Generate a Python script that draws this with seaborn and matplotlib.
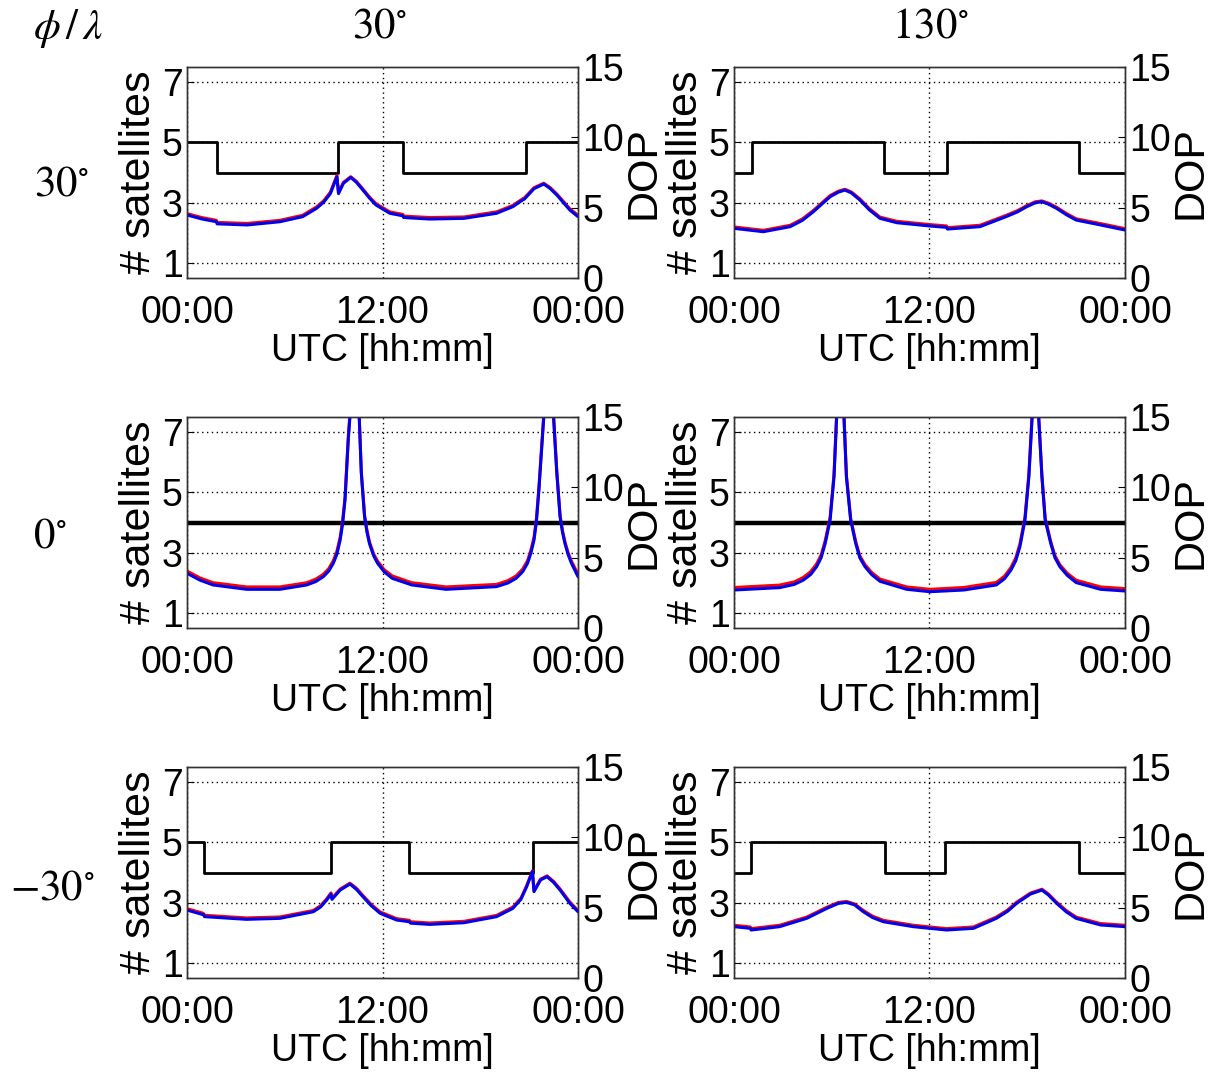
"""
GPS satellite visibility and DOP over one day, 3 latitudes x 2 longitudes.
Left axis: number of visible satellites (black step line).
Right axis: DOP (red and blue curves).
"""
import numpy as np
import pandas as pd
import matplotlib
matplotlib.use("Agg")
import matplotlib.pyplot as plt
import seaborn as sns

# ---------------------------------------------------------------------------
# Data (hours UTC)
# ---------------------------------------------------------------------------

LATITUDES = ["30", "0", "-30"]
LONGITUDES = ["30", "130"]
TIME_TICKS = [0, 12, 24]
TIME_LABELS = ["00:00", "12:00", "00:00"]
SAT_TICKS = [1, 3, 5, 7]
DOP_TICKS = [0, 5, 10, 15]

# lat 30 / lon 30
p30_30_t = [0, 0.9, 1.8, 1.85, 3.7, 5.7, 7.1, 7.95, 8.4, 8.8, 9.2, 9.3, 9.6, 10.05,
            10.4, 10.8, 11.2, 11.6, 12.45, 13.25, 13.3, 14.9, 17.0, 19.0, 20.0,
            20.6, 20.7, 21.3, 21.9, 22.3, 22.7, 23.5, 24]
p30_30_blue = [4.48, 4.2, 4.0, 3.85, 3.77, 4.0, 4.36, 4.95, 5.4, 6.0, 7.2, 6.0,
               6.73, 7.15, 6.8, 6.25, 5.68, 5.19, 4.6, 4.42, 4.3, 4.19, 4.24, 4.6,
               5.07, 5.55, 5.6, 6.35, 6.68, 6.35, 5.9, 4.83, 4.36]
p30_30_red = [4.58, 4.3, 4.1, 3.95, 3.88, 4.1, 4.46, 5.05, 5.5, 6.1, 7.28, 6.1,
              6.8, 7.2, 6.87, 6.32, 5.76, 5.28, 4.7, 4.52, 4.4, 4.3, 4.34, 4.7,
              5.16, 5.63, 5.68, 6.42, 6.74, 6.42, 5.97, 4.92, 4.46]
p30_30_sat_t = [0, 1.82, 9.25, 13.28, 20.8, 24]
p30_30_sat_n = [5, 4, 5, 4, 5, 5]

# lat 30 / lon 130
p30_130_t = [0, 1.8, 3.45, 4.2, 4.87, 5.9, 6.4, 6.81, 7.2, 7.73, 8.3, 8.96, 10.0,
             12.0, 13.05, 13.1, 15.1, 16.7, 17.4, 17.97, 18.5, 18.9, 19.3, 19.8,
             20.4, 21.0, 22.5, 24]
p30_130_blue = [3.53, 3.29, 3.65, 4.1, 4.71, 5.78, 6.1, 6.25, 6.05, 5.54, 4.85,
                4.24, 3.93, 3.7, 3.6, 3.48, 3.65, 4.36, 4.7, 5.07, 5.35, 5.42,
                5.25, 4.95, 4.5, 4.12, 3.77, 3.41]
p30_130_red = [3.63, 3.39, 3.75, 4.2, 4.8, 5.86, 6.17, 6.31, 6.12, 5.62, 4.94,
               4.33, 4.03, 3.8, 3.7, 3.58, 3.75, 4.45, 4.79, 5.15, 5.42, 5.48,
               5.32, 5.03, 4.59, 4.21, 3.87, 3.51]
p30_130_sat_t = [0, 1.08, 9.23, 13.1, 21.2, 24]
p30_130_sat_n = [4, 5, 4, 5, 4, 4]

# lat 0 / lon 30
p0_30_t = [0, 0.8, 1.6, 3.66, 5.7, 7.35, 7.9, 8.37, 8.7, 8.98, 9.2, 9.4, 9.55,
           9.7, 9.9, 10.0, 10.3, 10.57, 10.7, 10.9, 11.05, 11.2, 11.45, 11.7,
           12.1, 12.6, 13.8, 15.9, 19.0, 19.7, 20.2, 20.6, 20.9, 21.1, 21.3, 21.45,
           21.6, 21.9, 22.2, 22.5, 22.7, 22.9, 23.05, 23.2, 23.4, 23.6, 24]
p0_30_blue = [3.89, 3.4, 3.06, 2.75, 2.75, 3.06, 3.3, 3.65, 4.05, 4.6, 5.25, 6.25,
              7.4, 9.1, 13.4, 15.0, 30.0, 15.0, 11.0, 7.9, 6.8, 6.0, 5.15, 4.6,
              4.0, 3.53, 3.06, 2.75, 2.94, 3.2, 3.53, 4.0, 4.6, 5.3, 6.25, 7.6,
              9.8, 15.0, 30.0, 15.0, 11.0, 7.9, 6.8, 6.0, 5.2, 4.6, 3.65]
p0_30_red = [4.05, 3.56, 3.22, 2.92, 2.92, 3.22, 3.47, 3.82, 4.22, 4.78, 5.45,
             6.45, 7.6, 9.3, 13.6, 15.2, 30.0, 15.1, 11.1, 8.0, 6.92, 6.12, 5.28,
             4.75, 4.15, 3.7, 3.22, 2.92, 3.1, 3.37, 3.7, 4.18, 4.78, 5.5, 6.45,
             7.8, 10.0, 15.2, 30.0, 15.1, 11.1, 8.0, 6.92, 6.12, 5.33, 4.75, 3.82]
p0_30_sat_t = [0, 24]
p0_30_sat_n = [4, 4]

# lat 0 / lon 130
p0_130_t = [0, 2.8, 3.7, 4.26, 4.7, 5.07, 5.35, 5.6, 5.9, 6.14, 6.3, 6.53, 6.75,
            6.9, 7.16, 7.47, 7.72, 8.04, 8.45, 8.96, 10.6, 12.03, 14.1, 16.1, 16.6,
            17.0, 17.3, 17.55, 17.86, 18.1, 18.3, 18.5, 18.7, 18.9, 19.1, 19.44,
            19.7, 20.0, 20.45, 21.0, 22.5, 24]
p0_130_blue = [2.70, 2.87, 3.1, 3.41, 3.8, 4.36, 5.0, 6.02, 7.68, 10.75, 15.0,
               30.0, 15.0, 10.75, 7.68, 6.02, 5.0, 4.36, 3.8, 3.32, 2.75, 2.58,
               2.70, 3.06, 3.5, 4.12, 4.8, 5.78, 7.68, 10.75, 15.0, 30.0, 15.0,
               10.75, 7.68, 6.02, 5.0, 4.36, 3.75, 3.23, 2.75, 2.63]
p0_130_red = [2.88, 3.05, 3.28, 3.6, 4.0, 4.55, 5.2, 6.22, 7.88, 10.95, 15.2,
              30.0, 15.1, 10.85, 7.8, 6.15, 5.14, 4.5, 3.95, 3.48, 2.92, 2.75,
              2.88, 3.24, 3.68, 4.3, 5.0, 5.98, 7.88, 10.95, 15.2, 30.0, 15.1,
              10.85, 7.8, 6.15, 5.14, 4.5, 3.9, 3.4, 2.92, 2.8]
p0_130_sat_t = [0, 24]
p0_130_sat_n = [4, 4]

# lat -30 / lon 30
pm30_30_t = [0, 1.0, 1.08, 3.66, 5.7, 7.75, 8.2, 8.57, 8.84, 8.9, 9.4, 10.0,
             10.4, 10.8, 11.3, 11.85, 12.87, 13.65, 13.72, 14.9, 17.0, 19.0, 20.0,
             20.5, 20.85, 21.2, 21.3, 21.7, 22.1, 22.5, 22.9, 23.5, 24]
pm30_30_blue = [4.83, 4.5, 4.36, 4.17, 4.24, 4.71, 5.05, 5.54, 5.97, 5.59, 6.25,
                6.68, 6.3, 5.78, 5.15, 4.6, 4.12, 4.0, 3.9, 3.81, 3.93, 4.36,
                4.95, 5.6, 6.49, 7.56, 6.14, 6.97, 7.2, 6.8, 6.25, 5.31, 4.71]
pm30_30_red = [4.93, 4.6, 4.46, 4.27, 4.34, 4.8, 5.14, 5.62, 6.05, 5.67, 6.32,
               6.74, 6.38, 5.86, 5.24, 4.7, 4.22, 4.1, 4.0, 3.91, 4.03, 4.45,
               5.04, 5.68, 6.56, 7.62, 6.22, 7.03, 7.26, 6.87, 6.33, 5.4, 4.8]
pm30_30_sat_t = [0, 1.05, 8.84, 13.65, 21.26, 24]
pm30_30_sat_n = [5, 4, 5, 4, 5, 5]

# lat -30 / lon 130
pm30_130_t = [0, 1.0, 1.05, 2.8, 4.46, 5.7, 6.4, 6.9, 7.4, 7.94, 8.5, 9.17, 11.0,
              13.05, 14.7, 16.1, 16.8, 17.35, 18.2, 18.9, 19.3, 19.8, 20.4, 21.0,
              22.5, 24]
pm30_130_blue = [3.65, 3.53, 3.41, 3.65, 4.24, 4.95, 5.3, 5.38, 5.2, 4.71, 4.3,
                 4.0, 3.65, 3.41, 3.53, 4.24, 4.75, 5.31, 5.97, 6.25, 5.9, 5.31,
                 4.7, 4.24, 3.77, 3.65]
pm30_130_red = [3.75, 3.63, 3.51, 3.75, 4.33, 5.03, 5.37, 5.44, 5.27, 4.8, 4.4,
                4.1, 3.75, 3.51, 3.63, 4.33, 4.84, 5.39, 6.04, 6.31, 5.97, 5.39,
                4.79, 4.33, 3.87, 3.75]
pm30_130_sat_t = [0, 1.05, 9.25, 12.95, 21.2, 24]
pm30_130_sat_n = [4, 5, 4, 5, 4, 4]

PANELS = [
    [(p30_30_t, p30_30_red, p30_30_blue, p30_30_sat_t, p30_30_sat_n),
     (p30_130_t, p30_130_red, p30_130_blue, p30_130_sat_t, p30_130_sat_n)],
    [(p0_30_t, p0_30_red, p0_30_blue, p0_30_sat_t, p0_30_sat_n),
     (p0_130_t, p0_130_red, p0_130_blue, p0_130_sat_t, p0_130_sat_n)],
    [(pm30_30_t, pm30_30_red, pm30_30_blue, pm30_30_sat_t, pm30_30_sat_n),
     (pm30_130_t, pm30_130_red, pm30_130_blue, pm30_130_sat_t, pm30_130_sat_n)],
]

# ---------------------------------------------------------------------------
# Style
# ---------------------------------------------------------------------------

sns.set_theme(style="white")
plt.rcParams["font.family"] = ["Liberation Sans", "DejaVu Sans"]
plt.rcParams["mathtext.fontset"] = "stix"
plt.rcParams.update({
    "text.color": "black",
    "axes.labelcolor": "black",
    "xtick.color": "black",
    "ytick.color": "black",
})

W, H = 1213, 1077
AX_LEFT = [187, 734]
AX_TOP = [67, 417, 767]
AX_W, AX_H = 391, 211
TICK_FS = 27
LABEL_FS = 31
SERIF_FS = 31

fig = plt.figure(figsize=(W / 100, H / 100), dpi=100)
fig.patch.set_facecolor("white")

for r in range(3):
    for c in range(2):
        t, red, blue, sat_t, sat_n = PANELS[r][c]
        rect = [AX_LEFT[c] / W, 1 - (AX_TOP[r] + AX_H) / H, AX_W / W, AX_H / H]
        ax = fig.add_axes(rect)
        ax2 = ax.twinx()

        thick = 3.2 if r == 1 else 2.0
        sns.lineplot(x=sat_t, y=sat_n, ax=ax, color="black", lw=thick,
                     drawstyle="steps-post", estimator=None, sort=False)
        sns.lineplot(x=t, y=red, ax=ax2, color="#ff0000", lw=2.2,
                     estimator=None, sort=False)
        sns.lineplot(x=t, y=blue, ax=ax2, color="#0000ee", lw=2.2,
                     estimator=None, sort=False)

        ax.set_xlim(0, 24)
        ax.set_ylim(0.5, 7.5)
        ax2.set_ylim(0, 15)
        ax.set_xticks(TIME_TICKS)
        ax.set_xticklabels(TIME_LABELS)
        ax.set_yticks(SAT_TICKS)
        ax2.set_yticks(DOP_TICKS)

        ax.grid(True, color="black", linestyle=(0, (1, 2.5)), linewidth=1.0)
        for a in (ax, ax2):
            a.tick_params(direction="in", length=5, width=0.8, colors="black",
                          labelsize=TICK_FS, pad=3)
            for sp in a.spines.values():
                sp.set_color("#333333")
                sp.set_linewidth(1.0)
        ax.tick_params(axis="x", pad=12, length=0)

        ax.set_xlabel("UTC [hh:mm]", fontsize=TICK_FS, labelpad=2)
        ax.set_ylabel("# satellites", fontsize=LABEL_FS, labelpad=2)
        ax2.set_ylabel("DOP", fontsize=LABEL_FS, labelpad=0)

# row / column headers
serif = {"fontsize": SERIF_FS, "ha": "center", "va": "center"}
fig.text(68 / W, 1 - 28 / H, r"$\phi\,/\,\lambda$", **serif)
fig.text(380 / W, 1 - 27 / H, r"$30^{\circ}$", **serif)
fig.text(930 / W, 1 - 27 / H, r"$130^{\circ}$", **serif)
fig.text(62 / W, 1 - 185 / H, r"$30^{\circ}$", **serif)
fig.text(50 / W, 1 - 537 / H, r"$0^{\circ}$", **serif)
fig.text(52 / W, 1 - 888 / H, r"$-30^{\circ}$", **serif)

fig.savefig("out.png", dpi=100, facecolor="white")
plt.close(fig)
